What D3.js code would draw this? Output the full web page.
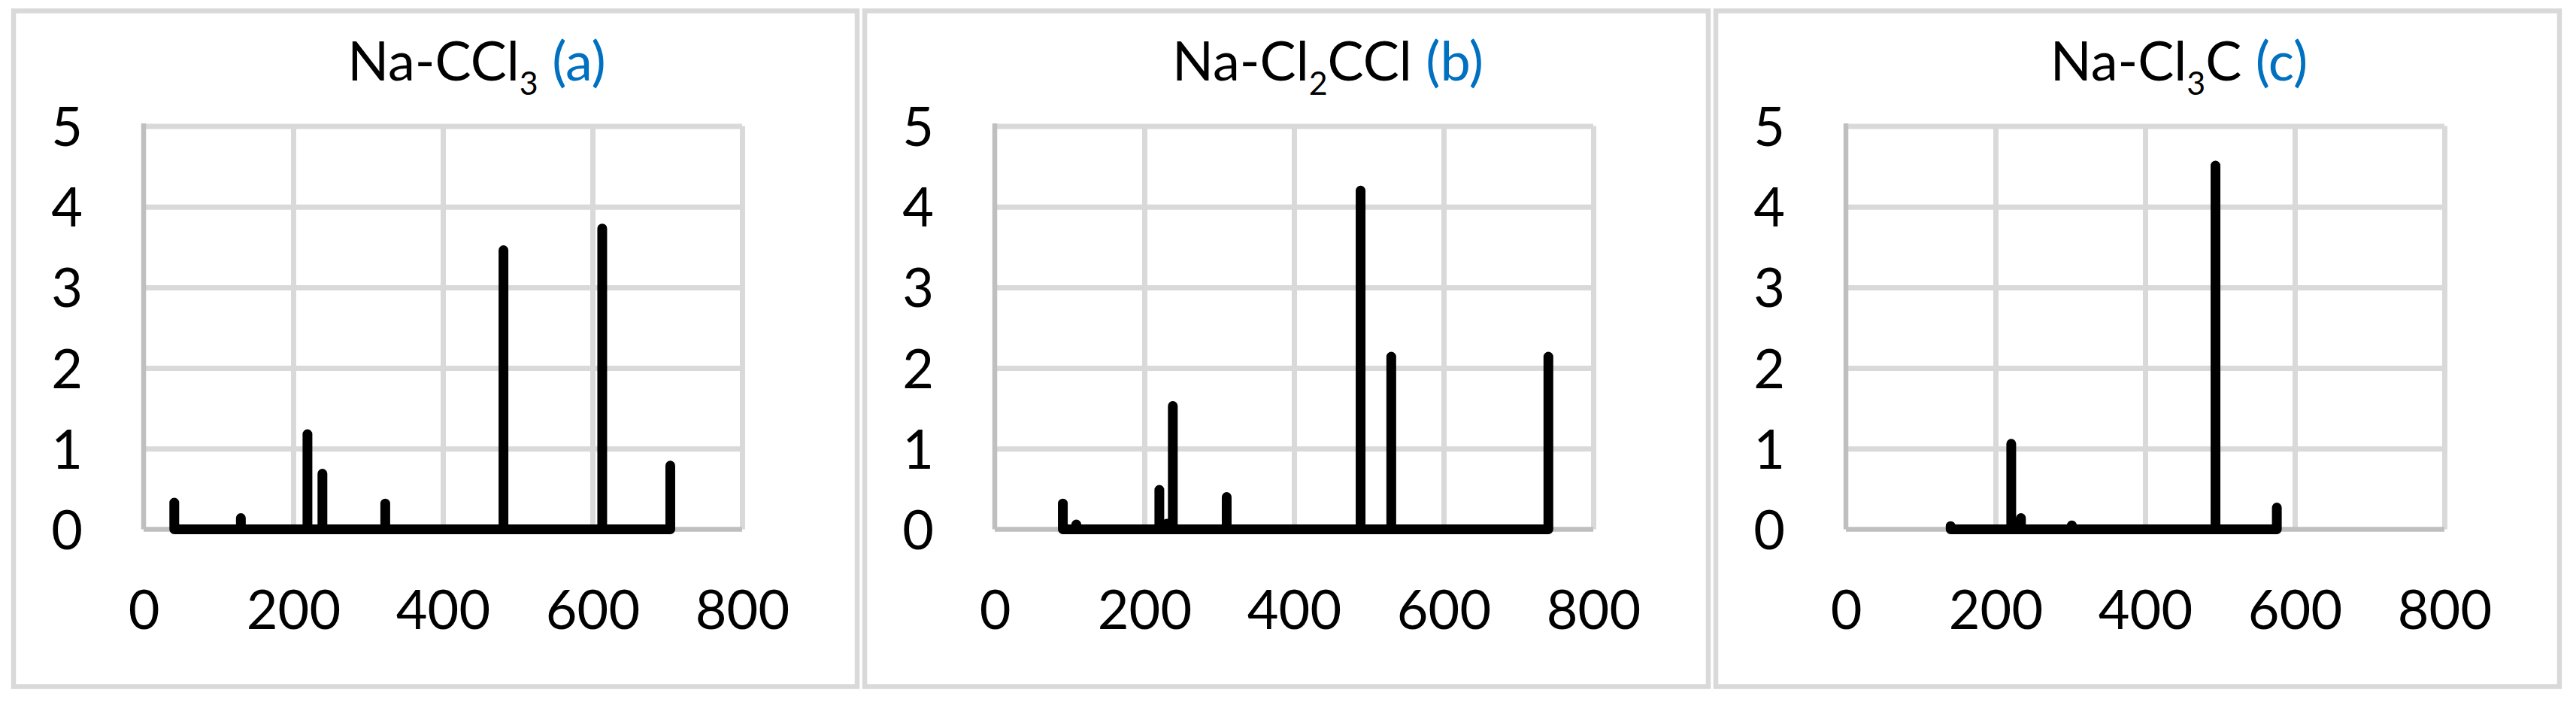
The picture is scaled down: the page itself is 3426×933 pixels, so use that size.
<!DOCTYPE html>
<html>
<head>
<meta charset="utf-8">
<script src="https://cdn.jsdelivr.net/npm/d3@7"></script>
<style>
  body { margin: 0; background: #fff; }
  text { font-family: Lato, "Open Sans", sans-serif; }
</style>
</head>
<body>
<div class="chart"></div>
<script>
// tick labels
const xTicks = [0, 200, 400, 600, 800];
const yTicks = [0, 1, 2, 3, 4, 5];

// panel titles: main part, subscript, rest, letter
const titleMain = ["Na-CCl", "Na-Cl", "Na-Cl"];
const titleSub = ["3", "2", "3"];
const titleRest = ["", "CCl", "C"];
const titleTag = ["(a)", "(b)", "(c)"];

// stick spectra, frequency and intensity
const freqA = [41, 130, 219, 239, 323, 481, 613, 704];
const intA = [0.33, 0.14, 1.18, 0.69, 0.32, 3.46, 3.73, 0.79];

const freqB = [91, 109, 220, 230, 238, 310, 489, 530, 740];
const intB = [0.32, 0.06, 0.49, 0.07, 1.53, 0.40, 4.20, 2.14, 2.14];

const freqC = [140, 221, 234, 302, 494, 576];
const intC = [0.04, 1.06, 0.14, 0.05, 4.51, 0.27];

const spectra = [[freqA, intA], [freqB, intB], [freqC, intC]];

const W = 3426, H = 933;
const panelLeft = [18, 1150, 2282];
const panelW = 1122;
const plot = { left: 173, top: 167.5, width: 796, height: 536 };

const svg = d3.select('.chart')
    .append('svg')
    .attr('width', W)
    .attr('height', H);

svg.append('rect')
    .attr('width', W)
    .attr('height', H)
    .attr('fill', '#fff');

const xScale = d3.scaleLinear().domain([0, 800]).range([0, plot.width]);
const yScale = d3.scaleLinear().domain([0, 5]).range([plot.height, 0]);

spectra.forEach(function (s, i) {
    const panel = svg.append('g')
        .attr('transform', `translate(${panelLeft[i]}, 0)`);

    // outer frame
    panel.append('rect')
        .attr('x', 0)
        .attr('y', 14.5)
        .attr('width', panelW)
        .attr('height', 898)
        .attr('fill', '#fff')
        .attr('stroke', '#d9d9d9')
        .attr('stroke-width', 6.5);

    // title
    const title = panel.append('text')
        .attr('x', 616)
        .attr('y', 107)
        .attr('text-anchor', 'middle')
        .style('font-size', '72px')
        .attr('fill', '#000');
    title.append('tspan').text(titleMain[i]);
    title.append('tspan')
        .attr('dy', 19)
        .style('font-size', '43px')
        .text(titleSub[i]);
    title.append('tspan')
        .attr('dy', -19)
        .text(titleRest[i] + ' ');
    title.append('tspan')
        .attr('fill', '#0070c0')
        .text(titleTag[i]);

    const g = panel.append('g')
        .attr('transform', `translate(${plot.left}, ${plot.top})`);

    // gridlines
    g.append('g')
        .attr('class', 'grid')
        .call(d3.axisLeft(yScale).tickValues(yTicks.slice(1)).tickSize(-plot.width).tickFormat(''))
        .call(a => a.select('.domain').remove())
        .call(a => a.selectAll('line').attr('stroke', '#d9d9d9').attr('stroke-width', 7));

    g.append('g')
        .attr('class', 'grid')
        .attr('transform', `translate(0, ${plot.height})`)
        .call(d3.axisBottom(xScale).tickValues(xTicks.slice(1)).tickSize(-plot.height).tickFormat(''))
        .call(a => a.select('.domain').remove())
        .call(a => a.selectAll('line').attr('stroke', '#d9d9d9').attr('stroke-width', 7));

    // axis lines
    g.append('line')
        .attr('x1', 0).attr('x2', 0)
        .attr('y1', yScale(5) - 3.5).attr('y2', yScale(0))
        .attr('stroke', '#bfbfbf').attr('stroke-width', 6.5);
    g.append('line')
        .attr('x1', 0).attr('x2', plot.width)
        .attr('y1', yScale(0)).attr('y2', yScale(0))
        .attr('stroke', '#bfbfbf').attr('stroke-width', 6.5);

    // tick labels
    g.append('g')
        .attr('class', 'label')
        .call(d3.axisLeft(yScale).tickValues(yTicks).tickSize(0).tickPadding(81).tickFormat(d3.format('d')))
        .call(a => a.select('.domain').remove())
        .call(a => a.selectAll('text')
            .attr('dy', '0.36em')
            .attr('fill', '#000')
            .style('font-size', '72px')
            .style('font-family', 'Lato, sans-serif'));

    g.append('g')
        .attr('class', 'label')
        .attr('transform', `translate(0, ${plot.height})`)
        .call(d3.axisBottom(xScale).tickValues(xTicks).tickSize(0).tickPadding(81).tickFormat(d3.format('d')))
        .call(a => a.select('.domain').remove())
        .call(a => a.selectAll('text')
            .attr('fill', '#000')
            .style('font-size', '72px')
            .style('font-family', 'Lato, sans-serif'));

    // spectrum as a single zigzag line
    const pts = [];
    s[0].forEach(function (f, j) {
        pts.push([f, 0], [f, s[1][j]], [f, 0]);
    });

    const line = d3.line()
        .x(d => xScale(d[0]))
        .y(d => yScale(d[1]));

    g.append('path')
        .datum(pts)
        .attr('d', line)
        .attr('fill', 'none')
        .attr('stroke', '#000')
        .attr('stroke-width', 13)
        .attr('stroke-linejoin', 'round')
        .attr('stroke-linecap', 'round');
});
</script>
</body>
</html>
